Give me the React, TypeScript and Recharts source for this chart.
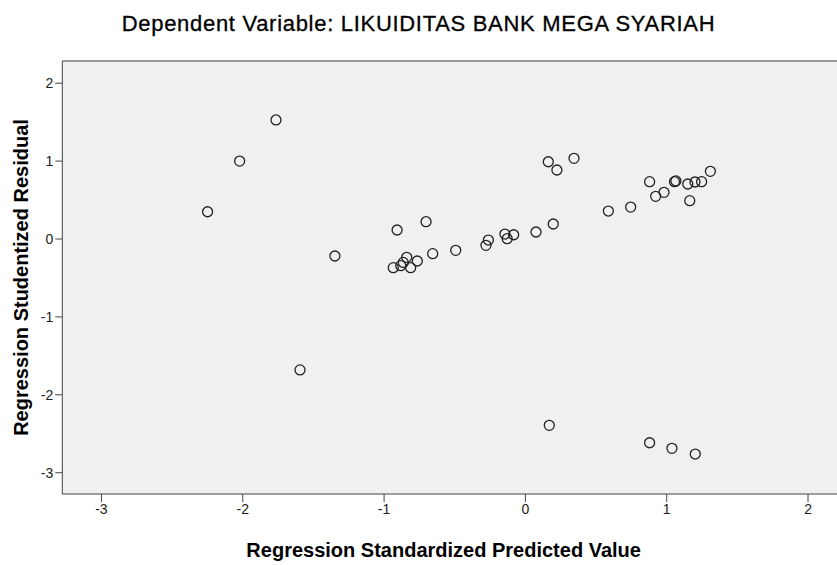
import React from 'react';
import { ScatterChart, Scatter, XAxis, YAxis, CartesianGrid, ReferenceLine } from 'recharts';

// standardized predicted values
const predicted = [
  -2.249, -2.022, -1.765, -1.595, -1.348,
  -0.935, -0.908, -0.882, -0.864, -0.840, -0.812, -0.765, -0.703, -0.656,
  -0.493, -0.279, -0.262, -0.145, -0.129, -0.083,
  0.075, 0.162, 0.169, 0.197, 0.223, 0.344,
  0.587, 0.745, 0.879, 0.879, 0.922, 0.981,
  1.037, 1.055, 1.065, 1.149, 1.163, 1.200, 1.202, 1.247, 1.309,
];

// studentized residuals
const residual = [
  0.350, 1.000, 1.528, -1.680, -0.218,
  -0.368, 0.116, -0.342, -0.300, -0.235, -0.368, -0.282, 0.222, -0.188,
  -0.145, -0.081, -0.013, 0.064, 0.004, 0.055,
  0.090, 0.992, -2.392, 0.193, 0.886, 1.036,
  0.359, 0.410, 0.736, -2.615, 0.548, 0.599,
  -2.687, 0.736, 0.745, 0.706, 0.492, 0.732, -2.760, 0.736, 0.869,
];

const xTicks = [-3, -2, -1, 0, 1, 2];
const yTicks = [-3, -2, -1, 0, 1, 2];

const xDomain = [-3.277, 2.205];
const yDomain = [-3.273, 2.285];

const points = predicted.map((x, i) => ({ x, y: residual[i] }));

const FONT = '"Liberation Sans", Arial, sans-serif';
const axisFont = { fontFamily: FONT, fontSize: 14, fill: '#222' };
const titleStyle = { fontFamily: FONT, fontSize: 20, fontWeight: 'bold', fill: '#000' };

const RingShape = (props: any) => {
  const { cx, cy } = props;
  if (cx == null || cy == null) return null;
  return <circle cx={cx} cy={cy} r={5} fill="none" stroke="#222" strokeWidth={1.3} />;
};

export default function App() {
  return (
    <div style={{ position: 'absolute', left: 0, top: 0, width: 837, height: 565, background: '#fff' }}>
      <div
        style={{
          position: 'absolute',
          left: 0,
          top: 11,
          width: 837,
          textAlign: 'center',
          fontFamily: FONT,
          fontSize: 22,
          letterSpacing: 0.7,
          color: '#000',
          whiteSpace: 'nowrap',
          WebkitTextStroke: '0.3px #000',
        }}
      >
        Dependent Variable: LIKUIDITAS BANK MEGA SYARIAH
      </div>
      <ScatterChart width={837} height={565} margin={{ top: 61, right: 0, bottom: 0, left: 0 }}>
        <CartesianGrid fill="#f0f0f0" horizontal={false} vertical={false} />
        <ReferenceLine y={yDomain[1]} stroke="#999" strokeWidth={2} />
        <XAxis
          type="number"
          dataKey="x"
          domain={xDomain}
          ticks={xTicks}
          allowDataOverflow
          height={71}
          tickSize={8}
          fontSize={14}
          tick={axisFont}
          stroke="#444"
          tickLine={{ stroke: '#444' }}
          label={{
            value: 'Regression Standardized Predicted Value',
            position: 'insideBottom',
            offset: 8,
            dx: -6,
            style: titleStyle,
          }}
        />
        <YAxis
          type="number"
          dataKey="y"
          domain={yDomain}
          ticks={yTicks}
          allowDataOverflow
          width={62.3}
          tickSize={7}
          fontSize={14}
          tick={axisFont}
          stroke="#444"
          tickLine={{ stroke: '#444' }}
          label={{
            value: 'Regression Studentized Residual',
            angle: -90,
            position: 'center',
            dx: -10,
            style: { ...titleStyle, textAnchor: 'middle' },
          }}
        />
        <Scatter data={points} shape={RingShape} isAnimationActive={false} />
      </ScatterChart>
    </div>
  );
}
